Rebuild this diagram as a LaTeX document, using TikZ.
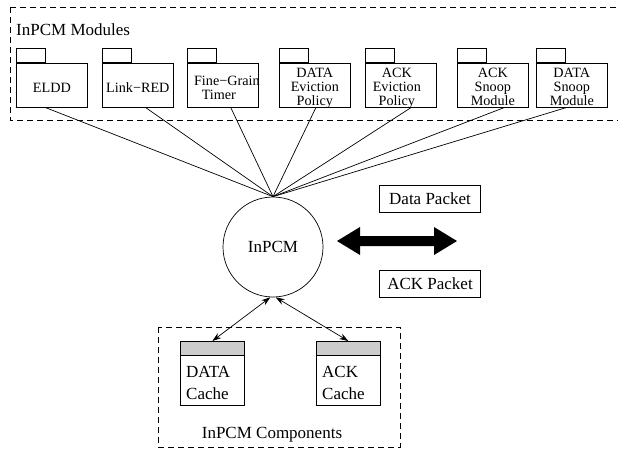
\documentclass[tikz,border=0pt]{standalone}
\usepackage{fontspec}
\setmainfont{Liberation Serif}
\usetikzlibrary{arrows.meta}
\begin{document}
\begin{tikzpicture}[x=1pt,y=-1pt,
  every node/.style={font=\fontsize{17}{15}\selectfont},
  grp/.style={draw, line width=0.7pt, dash pattern=on 6pt off 4pt},
  modbody/.style={draw, line width=0.7pt, minimum width=71pt, minimum height=44pt, inner sep=0pt, anchor=north west},
  modtab/.style={draw, line width=0.7pt, minimum width=29pt, minimum height=14pt, inner sep=0pt, anchor=south west},
  txt/.style={inner sep=0pt, anchor=base},
  mtxt/.style={inner sep=0pt, anchor=base, font=\fontsize{14.2}{14}\selectfont},
  pkt/.style={draw, line width=0.7pt, minimum width=101pt, minimum height=27pt, inner sep=0pt},
  cachehead/.style={draw, line width=0.7pt, fill=black!20, minimum width=64pt, minimum height=14pt, inner sep=0pt, anchor=north west},
  cachebody/.style={draw, line width=0.7pt, minimum width=64pt, minimum height=50pt, inner sep=0pt, anchor=north west},
  link/.style={line width=0.7pt},
  dlink/.style={line width=0.7pt, {Stealth[length=9pt,width=6pt]}-{Stealth[length=9pt,width=6pt]}}
]
\useasboundingbox (0,0) rectangle (618,448);

% group boxes
\draw[grp] (10,7) rectangle (625,120);
\node[txt, anchor=base west] (modlbl) at (16,35) {InPCM Modules};

\draw[grp] (158,327) rectangle (400,447);
\node[txt] (complbl) at (272,438) {InPCM Components};

% modules
\foreach \n/\x in {m1/16, m2/102, m3/187, m4/279, m5/365, m6/457, m7/536}{
  \node[modbody] (\n) at (\x,63) {};
  \node[modtab] (\n tab) at (\x,63) {};
}
\node[mtxt] (t1) at (m1.center |- 0,92) {ELDD};
\node[mtxt] (t2) at (m2.center |- 0,92) {Link−RED};
\node[mtxt] (t3a) at ([xshift=4pt]m3.center |- 0,85) {Fine−Grain};
\node[mtxt] (t3b) at ([xshift=-4pt]m3.center |- 0,99) {Timer};
\node[mtxt] (t4a) at (m4.center |- 0,77) {DATA};
\node[mtxt] (t4b) at (m4.center |- 0,91) {Eviction};
\node[mtxt] (t4c) at (m4.center |- 0,105) {Policy};
\node[mtxt] (t5a) at ([xshift=-4pt]m5.center |- 0,77) {ACK};
\node[mtxt] (t5b) at ([xshift=-4pt]m5.center |- 0,91) {Eviction};
\node[mtxt] (t5c) at ([xshift=-4pt]m5.center |- 0,105) {Policy};
\node[mtxt] (t6a) at (m6.center |- 0,77) {ACK};
\node[mtxt] (t6b) at (m6.center |- 0,91) {Snoop};
\node[mtxt] (t6c) at (m6.center |- 0,105) {Module};
\node[mtxt] (t7a) at (m7.center |- 0,77) {DATA};
\node[mtxt] (t7b) at (m7.center |- 0,91) {Snoop};
\node[mtxt] (t7c) at (m7.center |- 0,105) {Module};

% central node
\node[draw, circle, line width=0.7pt, minimum size=100pt, inner sep=0pt] (core) at (273,247) {InPCM};

% module connections
\foreach \n/\dx in {m1/-6, m2/8, m3/8, m4/1, m5/10, m6/11, m7/-6}{
  \draw[link] ([xshift=\dx pt]\n.south) -- (core.north);
}

% packets
\node[pkt] (dpkt) at (430,198.5) {Data Packet};
\node[pkt] (apkt) at (430,284) {ACK Packet};

% thick double arrow
\fill (337,241) -- (360,227) -- (360,236) -- (434,236) -- (434,227) -- (457,241)
      -- (434,255) -- (434,246) -- (360,246) -- (360,255) -- cycle;

% caches
\node[cachehead] (dch) at (180,341) {};
\node[cachebody] (dcb) at (180,355) {};
\node[cachehead] (ach) at (316,341) {};
\node[cachebody] (acb) at (316,355) {};
\node[txt, anchor=base west] (dct1) at (186,377) {DATA};
\node[txt, anchor=base west] (dct2) at (186,399) {Cache};
\node[txt, anchor=base west] (act1) at (322,377) {ACK};
\node[txt, anchor=base west] (act2) at (322,399) {Cache};

\draw[dlink] (core.-93) -- (dch.north);
\draw[dlink] (core.-87) -- (ach.north);
\end{tikzpicture}
\end{document}
